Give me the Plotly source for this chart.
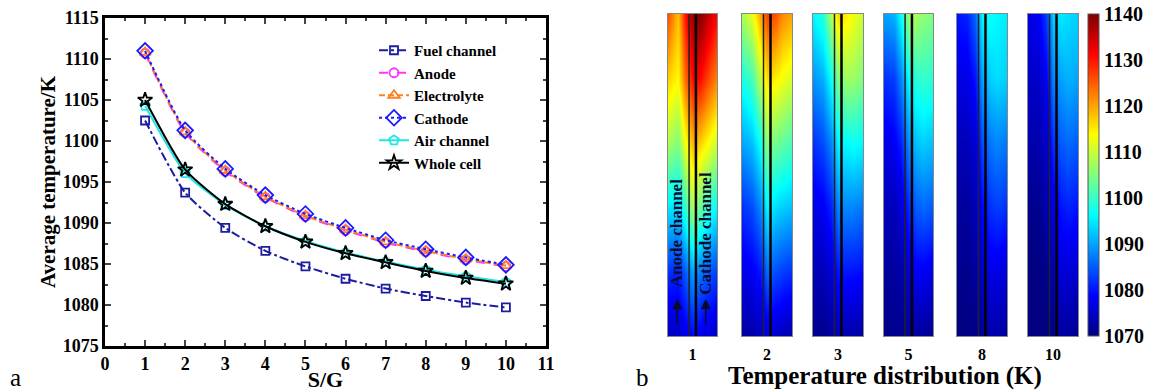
import plotly.graph_objects as go

# ---------------- data: panel a ----------------
sg = [1, 2, 3, 4, 5, 6, 7, 8, 9, 10]
fuel_channel = [1102.5, 1093.7, 1089.4, 1086.6, 1084.7, 1083.2, 1082.0, 1081.1, 1080.3, 1079.7]
anode = [1110.7, 1101.0, 1096.3, 1093.1, 1090.8, 1089.1, 1087.6, 1086.5, 1085.5, 1084.7]
electrolyte = [1110.8, 1101.1, 1096.4, 1093.2, 1090.9, 1089.2, 1087.7, 1086.6, 1085.6, 1084.8]
cathode = [1111.0, 1101.3, 1096.6, 1093.4, 1091.1, 1089.4, 1087.9, 1086.8, 1085.8, 1084.9]
air_channel = [1104.3, 1096.1, 1092.2, 1089.6, 1087.8, 1086.4, 1085.3, 1084.3, 1083.5, 1082.8]
whole_cell = [1105.0, 1096.5, 1092.3, 1089.6, 1087.7, 1086.3, 1085.2, 1084.15, 1083.3, 1082.6]
y_ticks = [1075, 1080, 1085, 1090, 1095, 1100, 1105, 1110, 1115]
x_ticks = [0, 1, 2, 3, 4, 5, 6, 7, 8, 9, 10, 11]

# ---------------- data: panel b (coarse temperature fields) ----
case_labels = ["1", "2", "3", "5", "8", "10"]
grid_x = [0.0, 0.2, 0.35, 0.5, 0.65, 0.8, 1.0]   # across cell width
grid_y = [0.0, 0.2, 0.4, 0.6, 0.8, 1.0]          # inlet (bottom) -> outlet (top)
field_1 = [
    [1074, 1075, 1077, 1079, 1077, 1076, 1075],
    [1082, 1081, 1085, 1090, 1087, 1085, 1083],
    [1095, 1094, 1100, 1108, 1103, 1100, 1096],
    [1108, 1105, 1113, 1119, 1117, 1114, 1110],
    [1117, 1114, 1124, 1131, 1131, 1127, 1122],
    [1126, 1118, 1130, 1139, 1140, 1136, 1131],
]
field_2 = [
    [1072, 1073, 1074, 1076, 1075, 1074, 1073],
    [1077, 1078, 1080, 1086, 1084, 1083, 1082],
    [1082, 1084, 1088, 1096, 1094, 1093, 1092],
    [1090, 1092, 1097, 1106, 1104, 1103, 1101],
    [1098, 1101, 1109, 1116, 1115, 1113, 1111],
    [1108, 1112, 1120, 1127, 1126, 1122, 1120],
]
field_3 = [
    [1071, 1071, 1072, 1074, 1073, 1073, 1072],
    [1074, 1074, 1076, 1080, 1080, 1080, 1079],
    [1077, 1078, 1081, 1088, 1088, 1088, 1087],
    [1082, 1084, 1088, 1096, 1096, 1097, 1096],
    [1089, 1091, 1097, 1105, 1107, 1107, 1105],
    [1096, 1099, 1108, 1117, 1115, 1113, 1110],
]
field_5 = [
    [1070.5, 1071, 1071, 1072, 1072, 1072, 1071],
    [1072, 1072, 1073, 1076, 1078, 1078, 1077],
    [1074, 1074, 1076, 1082, 1085, 1086, 1085],
    [1077, 1078, 1081, 1089, 1092, 1093, 1092],
    [1082, 1083, 1088, 1097, 1099, 1100, 1099],
    [1090, 1091, 1097, 1108, 1108, 1106, 1105],
]
field_8 = [
    [1070, 1070, 1070.5, 1072, 1073, 1073, 1072],
    [1071, 1071, 1072, 1075, 1077, 1077, 1076],
    [1072, 1072, 1074, 1079, 1082, 1083, 1082],
    [1074, 1074, 1076, 1084, 1087, 1088, 1087],
    [1077, 1077, 1080, 1090, 1093, 1094, 1093],
    [1080, 1081, 1086, 1096, 1097, 1096, 1095],
]
field_10 = [
    [1070, 1070, 1070, 1071, 1072, 1072, 1071],
    [1070, 1070, 1071, 1074, 1076, 1076, 1075],
    [1071, 1071, 1073, 1077, 1080, 1081, 1080],
    [1073, 1073, 1075, 1082, 1085, 1086, 1085],
    [1075, 1075, 1078, 1088, 1090, 1091, 1090],
    [1077, 1078, 1083, 1093, 1095, 1094, 1093],
]
fields = [field_1, field_2, field_3, field_5, field_8, field_10]
channel_walls = [0.43, 0.57]
cbar_ticks = [1070, 1080, 1090, 1100, 1110, 1120, 1130, 1140]

FONT = "Liberation Serif, Times New Roman, serif"
W, H = 1156, 392


def b(s):
    return f"<b>{s}</b>"


jet = [[0.0, "rgb(0,0,128)"], [0.125, "rgb(0,0,255)"], [0.375, "rgb(0,255,255)"],
       [0.625, "rgb(255,255,0)"], [0.875, "rgb(255,0,0)"], [1.0, "rgb(128,0,0)"]]

fig = go.Figure()

# ---------------- panel a ----------------
series = [
    ("Fuel channel", fuel_channel, "#1c1ca0", "dashdot", "square-open", 8),
    ("Anode", anode, "#ff33ff", "dash", "circle-open", 9),
    ("Electrolyte", electrolyte, "#ff7f1e", "6px,3px", "triangle-up-open", 10),
    ("Cathode", cathode, "#1a1aff", "dot", "diamond-open", 12),
    ("Air channel", air_channel, "#22e6e6", "solid", "pentagon-open", 10),
    ("Whole cell", whole_cell, "#000000", "solid", "star-open", 11),
]
for name, vals, col, dash, sym, size in series:
    fig.add_trace(go.Scatter(
        x=sg, y=vals, name=b(name), mode="lines+markers",
        line=dict(color=col, width=2, dash=dash, shape="spline", smoothing=0.6),
        marker=dict(symbol=sym, size=size, color=col, line=dict(width=1.8, color=col)),
        xaxis="x", yaxis="y", showlegend=True,
    ))

ya_dom = [1 - 346 / H, 1 - 18 / H]
fig.update_layout(
    xaxis=dict(domain=[105 / W, 546 / W], range=[0, 11],
               tickvals=x_ticks, ticktext=[b(v) for v in x_ticks],
               ticks="inside", ticklen=6, tickwidth=2, showline=True, linewidth=2.5,
               linecolor="black", mirror="ticks", showgrid=False, zeroline=False,
               minor=dict(ticks="inside", ticklen=3, tickwidth=1.5, dtick=0.5, showgrid=False),
               tickfont=dict(family=FONT, size=18, color="black"),
               title=dict(text=b("S/G"), font=dict(family=FONT, size=22, color="black"),
                          standoff=0),
               anchor="y"),
    yaxis=dict(domain=ya_dom, range=[1075, 1115],
               tickvals=y_ticks, ticktext=[b(v) for v in y_ticks],
               ticks="inside", ticklen=6, tickwidth=2, showline=True, linewidth=2.5,
               linecolor="black", mirror="ticks", showgrid=False, zeroline=False,
               minor=dict(ticks="inside", ticklen=3, tickwidth=1.5, dtick=2.5, showgrid=False),
               tickfont=dict(family=FONT, size=18, color="black"),
               title=dict(text=b("Average temperature/K"),
                          font=dict(family=FONT, size=21, color="black"),
                          standoff=2),
               anchor="x"),
)

# ---------------- panel b ----------------
col_px = [(668, 717), (742, 792), (813, 863), (884, 933), (957, 1007), (1028, 1078)]
hy_dom = [1 - 336 / H, 1 - 14 / H]
for i, (f, lab) in enumerate(zip(fields, case_labels)):
    k = i + 2
    xa, ya = f"x{k}", f"y{k}"
    fig.add_trace(go.Heatmap(
        x=grid_x, y=grid_y, z=f, zmin=1070, zmax=1140, zsmooth="best",
        colorscale=jet, showscale=(i == 0), xaxis=xa, yaxis=ya, hoverinfo="skip",
        colorbar=dict(x=1088 / W, xanchor="left", y=(hy_dom[0] + hy_dom[1]) / 2,
                      yanchor="middle", len=hy_dom[1] - hy_dom[0], lenmode="fraction",
                      thickness=11, outlinewidth=1, outlinecolor="#555",
                      tickvals=cbar_ticks, ticktext=[b(v) for v in cbar_ticks],
                      ticks="", ypad=0, xpad=0,
                      tickfont=dict(family=FONT, size=20, color="black")),
    ))
    for wi, wx in enumerate(channel_walls):
        fig.add_trace(go.Scatter(
            x=[wx, wx], y=[0, 1], mode="lines", showlegend=False, hoverinfo="skip",
            line=dict(color="#222" if wi == 0 else "black", width=1.5 if wi == 0 else 2.5),
            xaxis=xa, yaxis=ya))
    x0, x1 = col_px[i]
    fig.update_layout(**{
        f"xaxis{k}": dict(domain=[x0 / W, x1 / W], range=[0, 1], anchor=ya,
                          tickvals=[0.5], ticktext=[b(lab)], ticks="outside", ticklen=4,
                          tickcolor="rgba(0,0,0,0)", showline=True, linewidth=1,
                          linecolor="#888", mirror=True, showgrid=False, zeroline=False,
                          tickfont=dict(family=FONT, size=16, color="black")),
        f"yaxis{k}": dict(domain=hy_dom, range=[0, 1], anchor=xa, showticklabels=False,
                          ticks="", showline=True, linewidth=1, linecolor="#888",
                          mirror=True, showgrid=False, zeroline=False),
    })

ann = []
# channel labels and inlet arrows in panel 1
for txt, xx in [("Anode channel", 0.19), ("Cathode channel", 0.77)]:
    ann.append(dict(text=b(txt), x=xx, y=0.32, xref="x2", yref="y2", showarrow=False,
                    textangle=-90, font=dict(family=FONT, size=17, color="#0a0a30")))
    ann.append(dict(text="", x=xx, y=0.115, ax=xx, ay=0.03, xref="x2", yref="y2",
                    axref="x2", ayref="y2", showarrow=True, arrowhead=2, arrowsize=1.3,
                    arrowwidth=1.6, arrowcolor="#0a0a30"))
ann.append(dict(text=b("Temperature distribution (K)"), x=885 / W, y=1 - 376 / H,
                xref="paper", yref="paper", showarrow=False, xanchor="center", yanchor="middle",
                font=dict(family=FONT, size=25, color="black")))
ann.append(dict(text="a", x=15 / W, y=1 - 377 / H, xref="paper", yref="paper",
                showarrow=False, xanchor="center", yanchor="middle",
                font=dict(family=FONT, size=25, color="black")))
ann.append(dict(text="b", x=642 / W, y=1 - 377 / H, xref="paper", yref="paper",
                showarrow=False, xanchor="center", yanchor="middle",
                font=dict(family=FONT, size=25, color="black")))

fig.update_layout(
    width=W, height=H, margin=dict(l=0, r=0, t=0, b=0, autoexpand=False),
    paper_bgcolor="white", plot_bgcolor="white",
    annotations=ann,
    legend=dict(x=374 / W, y=1 - 34 / H, xanchor="left", yanchor="top",
                bgcolor="rgba(0,0,0,0)", borderwidth=0, tracegroupgap=0,
                font=dict(family=FONT, size=15, color="black"),
                itemwidth=30),
    showlegend=True,
)

fig.write_html("out.html")
